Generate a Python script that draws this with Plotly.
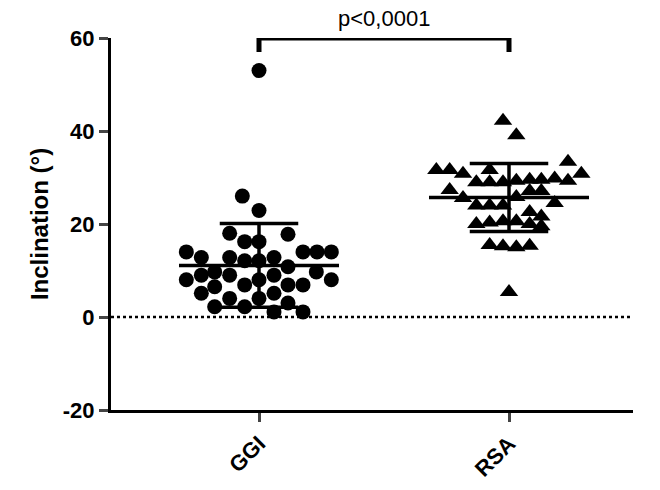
import plotly.graph_objects as go

groups = ["GGI", "RSA"]
ytick_vals = [-20, 0, 20, 40, 60]
ytick_text = ["-20", "0", "20", "40", "60"]
ggi_vals = [53, 26, 22.9, 18, 17.8, 16.2, 16.2,
            14, 14, 14, 14, 12.8, 12.8, 12.8, 12.1, 12.1, 10.8, 9.7, 9.7,
            9, 9, 9, 8, 8, 8, 6.9, 6.9, 6.9, 6.5, 5.1, 5.1, 4, 4, 3, 2.2, 2.2, 1.1, 1.1]
ggi_off = [0, -50, 0, -88, 87, -43, 0,
           -218, 132, 174, 217, -173, -88, 45, -43, 0, 87, -133, 172,
           -173, -88, 45, -218, 0, 217, -43, 87, 132, -133, -173, 45, -88, 0, 87, -133, -43, 45, 132]
ggi_stats = [11.1, 9.0]  # mean, SD

rsa_vals = [42.2, 39.1, 33.4, 31.6, 31.6, 30.8, 31.6, 30.8,
            29, 29, 29, 29.3, 29.5, 29.5, 29.8, 29.3,
            27.3, 27.1, 27.1, 25.6, 25.8, 24.5, 24, 24, 24,
            22.6, 21.6, 20, 20.3, 20.6, 20.6, 20, 19.5, 15.5, 15.2, 15, 15.3, 5.4]
rsa_off = [-18, 22, 177, -218, -178, -138, -58, 217,
           -98, -58, -18, 22, 62, 97, 137, 177,
           -178, 62, 97, -138, 22, 137, -98, -58, -18,
           62, 97, -98, -58, -18, 22, 62, 97, -58, -18, 22, 62, 0]
rsa_stats = [25.7, 7.3]

ggi_x = [0 + o / 750 for o in ggi_off]
rsa_x = [1 + o / 750 for o in rsa_off]

fig = go.Figure()
fig.add_trace(go.Scatter(x=ggi_x, y=ggi_vals, mode="markers",
                         marker=dict(symbol="circle", size=15, color="black"),
                         cliponaxis=False, showlegend=False))
fig.add_trace(go.Scatter(x=rsa_x, y=rsa_vals, mode="markers",
                         marker=dict(symbol="triangle-up", size=16, color="black"),
                         cliponaxis=False, showlegend=False))

for c, (m, sd) in enumerate([ggi_stats, rsa_stats]):
    lw = 3.5
    fig.add_shape(type="line", x0=c - 0.32, x1=c + 0.32, y0=m, y1=m, line=dict(color="black", width=lw))
    fig.add_shape(type="line", x0=c, x1=c, y0=m - sd, y1=m + sd, line=dict(color="black", width=lw))
    for yy in (m - sd, m + sd):
        fig.add_shape(type="line", x0=c - 0.157, x1=c + 0.157, y0=yy, y1=yy, line=dict(color="black", width=lw))

fig.add_shape(type="line", x0=-0.592, x1=1.496, y0=0, y1=0, line=dict(color="black", width=2.5, dash="dot"))

# significance bracket
fig.add_shape(type="path", path="M 0,57.0 L 0,60 L 1,60 L 1,57.0",
              line=dict(color="black", width=5))
fig.add_annotation(x=0.5, y=60, text="p<0,0001", showarrow=False, yanchor="bottom", yshift=5,
                   font=dict(size=22, color="black", family="Liberation Sans"))

fig.update_layout(
    width=660, height=490, margin=dict(l=103, r=35, t=30, b=88),
    plot_bgcolor="white", paper_bgcolor="white",
    font=dict(family="Liberation Sans", color="black"),
    xaxis=dict(range=[-0.592, 1.496], tickvals=[0, 1], ticktext=["<b>%s</b>" % g for g in groups],
               tickangle=-45,
               showline=True, linecolor="black", linewidth=3, ticks="outside", ticklen=9, tickwidth=3,
               showgrid=False, zeroline=False,
               tickfont=dict(size=22)),
    yaxis=dict(range=[-20, 60], tickvals=ytick_vals, ticktext=["<b>%s</b>" % t for t in ytick_text],
               showline=True, linecolor="black", linewidth=3, ticks="outside", ticklen=9, tickwidth=3,
               showgrid=False, zeroline=False,
               tickfont=dict(size=22),
               title=dict(text="<b>Inclination (°)</b>", font=dict(size=24), standoff=8)),
)
fig.write_html("out.html")
